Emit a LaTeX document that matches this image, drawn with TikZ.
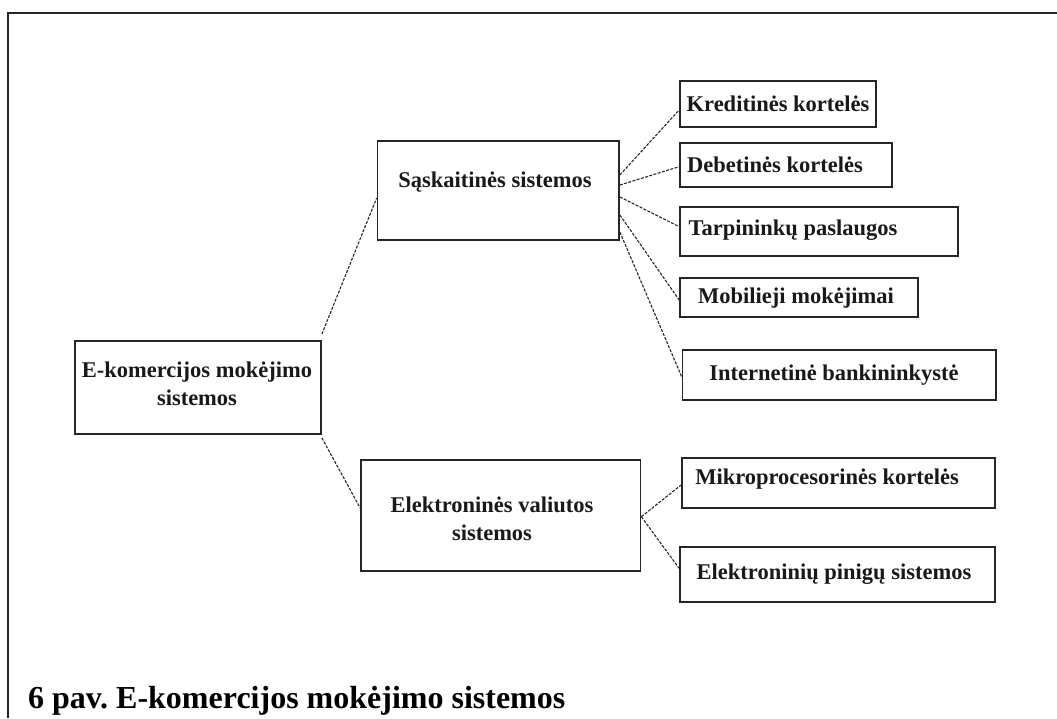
\documentclass[tikz,border=0pt]{standalone}
\usepackage{fontspec}
\setmainfont{Liberation Serif}
\frenchspacing
\begin{document}
\begin{tikzpicture}[x=1pt,y=-1pt,
  box/.style={draw=black!85,line width=1.7pt,rectangle,inner sep=0pt},
  lbl/.style={font=\fontsize{22.5}{28}\selectfont\bfseries,text=black!90,inner sep=0pt,align=center},
  link/.style={draw=black!85,line width=1.1pt,dash pattern=on 3pt off 1.4pt}]
\useasboundingbox (0,0) rectangle (1057,718);
% outer frame (top and left edges)
\draw[line width=2.4pt,black!85] (1057,13) -- (8,13) -- (8,718);

% boxes
\node[box,minimum width=246pt,minimum height=93pt]   (root) at (198,387.5) {};
\node[box,minimum width=241.5pt,minimum height=99pt] (sas)  at (498.25,190.5) {};
\node[box,minimum width=279.5pt,minimum height=111pt](elv)  at (500.75,515.5) {};
\node[box,minimum width=196pt,minimum height=46pt]   (kred) at (778,104) {};
\node[box,minimum width=211.7pt,minimum height=43.4pt](deb) at (785.85,165) {};
\node[box,minimum width=277.7pt,minimum height=49pt] (tarp) at (818.85,231.2) {};
\node[box,minimum width=238.3pt,minimum height=38.7pt](mob) at (799.15,297.35) {};
\node[box,minimum width=313.5pt,minimum height=50pt] (int)  at (839.25,375) {};
\node[box,minimum width=313pt,minimum height=50pt]   (mik)  at (838.5,483.3) {};
\node[box,minimum width=315pt,minimum height=55.3pt] (epin) at (837.5,574.35) {};

% box texts
\node[lbl] (rootT) at (197,384) {E-komercijos mokėjimo\\sistemos};
\node[lbl] (sasT)  at (495,182) {Sąskaitinės sistemos};
\node[lbl] (elvT)  at (492,519) {Elektroninės valiutos\\sistemos};
\node[lbl] (kredT) at (778,104) {Kreditinės kortelės};
\node[lbl] (debT)  at (775,165) {Debetinės kortelės};
\node[lbl] (tarpT) at (793,230) {Tarpininkų paslaugos};
\node[lbl] (mobT)  at (796,298) {Mobilieji mokėjimai};
\node[lbl] (intT)  at (834,375) {Internetinė bankininkystė};
\node[lbl] (mikT)  at (827,479) {Mikroprocesorinės kortelės};
\node[lbl] (epinT) at (834,574) {Elektroninių pinigų sistemos};

% connectors
\draw[link] ([yshift=6pt]root.north east) -- ([yshift=-7.5pt]sas.west);
\draw[link] ([yshift=-3pt]root.south east) -- ([yshift=7.5pt]elv.west);

\draw[link] ([yshift=15.5pt]sas.east) -- ([yshift=-6pt]kred.west);
\draw[link] ([yshift=5.5pt]sas.east)  -- ([yshift=-1.7pt]deb.west);
\draw[link] ([yshift=-6.5pt]sas.east) -- ([yshift=4.5pt]tarp.west);
\draw[link] ([yshift=-24.5pt]sas.east) -- ([yshift=-2.6pt]mob.west);
\draw[link] ([yshift=-41.5pt]sas.east) -- ([yshift=-1.7pt]int.west);

\draw[link] ([yshift=-1.2pt]elv.east) -- ([yshift=-1.7pt]mik.west);
\draw[link] ([yshift=-1.2pt]elv.east) -- ([yshift=6pt]epin.west);

% caption
\node[anchor=base west,inner sep=0pt,font=\fontsize{32}{38}\selectfont\bfseries] (cap) at (28,708) {6 pav. E-komercijos mokėjimo sistemos};
\end{tikzpicture}
\end{document}
